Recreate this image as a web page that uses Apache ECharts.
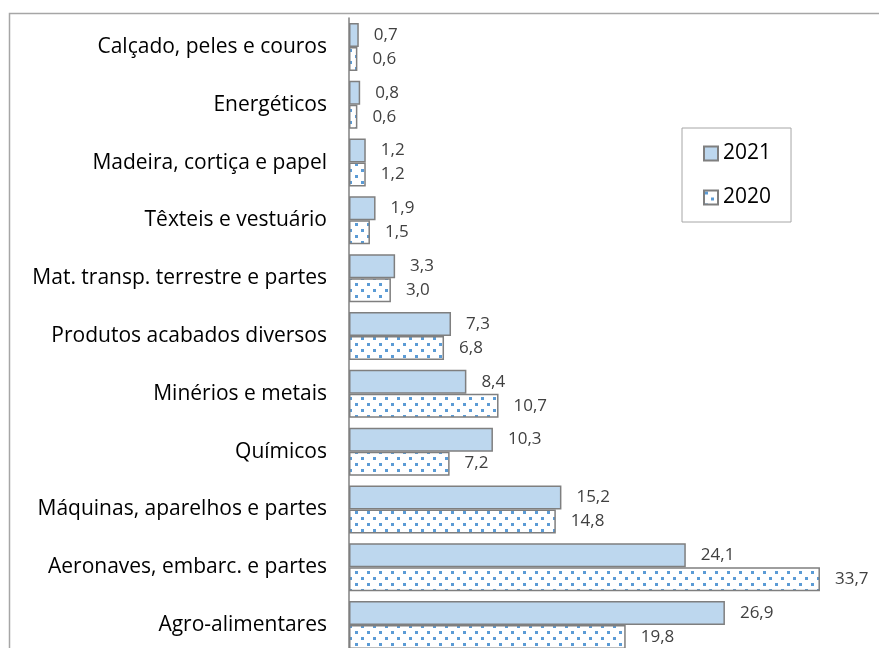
<!DOCTYPE html>
<html><head><meta charset="utf-8">
<script src="https://cdn.jsdelivr.net/npm/echarts@6/dist/echarts.min.js"></script>
<style>html,body{margin:0;padding:0;background:#fff;overflow:hidden}#w{width:879px;height:648px;overflow:hidden;position:relative}#c{width:920px;height:670px}</style>
</head><body><div id="w"><div id="c"></div></div>
<script>
const categories = ["Calçado, peles e couros","Energéticos","Madeira, cortiça e papel","Têxteis e vestuário","Mat. transp. terrestre e partes","Produtos acabados diversos","Minérios e metais","Químicos","Máquinas, aparelhos e partes","Aeronaves, embarc. e partes","Agro-alimentares"];
const values2021 = [0.7,0.8,1.2,1.9,3.3,7.3,8.4,10.3,15.2,24.1,26.9];
const values2020 = [0.6,0.6,1.2,1.5,3.0,6.8,10.7,7.2,14.8,33.7,19.8];
const seriesNames = ["2021","2020"];

const pc = document.createElement('canvas');
pc.width = 12; pc.height = 12;
const ctx = pc.getContext('2d');
ctx.fillStyle = '#ffffff'; ctx.fillRect(0,0,12,12);
ctx.fillStyle = '#5B9BD5';
ctx.fillRect(1,1,3,3);
ctx.fillRect(7,7,3,3);

const font = '"Open Sans", sans-serif';
const fmt = p => p.value.toFixed(1).replace('.', ',');
const chart = echarts.init(document.getElementById('c'));
chart.setOption({
  animation: false,
  graphic: [{type:'rect', shape:{x:9.5,y:13.5,width:950,height:800}, style:{fill:'none',stroke:'#A6A6A6',lineWidth:1.5}, z:-1}],
  legend: {
    orient:'vertical', left:682, top:128, itemWidth:14, itemHeight:14, itemGap:23, icon:'rect',
    padding:[15,20,14,21], borderColor:'#A6A6A6', borderWidth:1,
    textStyle:{fontFamily:font, fontSize:21, color:'#000'},
    data: seriesNames
  },
  grid: {left:349, top:18, width:559, height:636},
  xAxis: {type:'value', min:0, max:40, show:false},
  yAxis: {
    type:'category', inverse:true, data:categories,
    axisLine:{lineStyle:{color:'#808080', width:1.5}},
    axisTick:{length:6, lineStyle:{color:'#808080'}},
    axisLabel:{margin:22, fontFamily:font, fontSize:21, color:'#000'}
  },
  series: [
    {name:seriesNames[0], type:'bar', data:values2021, barWidth:24, barGap:'0%',
     itemStyle:{color:'#BDD7EE', borderColor:'#7F7F7F', borderWidth:1.5},
     label:{show:true, position:'right', distance:15, formatter:fmt, fontFamily:font, fontSize:17, color:'#404040'}},
    {name:seriesNames[1], type:'bar', data:values2020, barWidth:24, barGap:'0%',
     itemStyle:{color:{image:pc, repeat:'repeat'}, borderColor:'#7F7F7F', borderWidth:1.5},
     label:{show:true, position:'right', distance:15, formatter:fmt, fontFamily:font, fontSize:17, color:'#404040'}}
  ]
});
</script></body></html>
